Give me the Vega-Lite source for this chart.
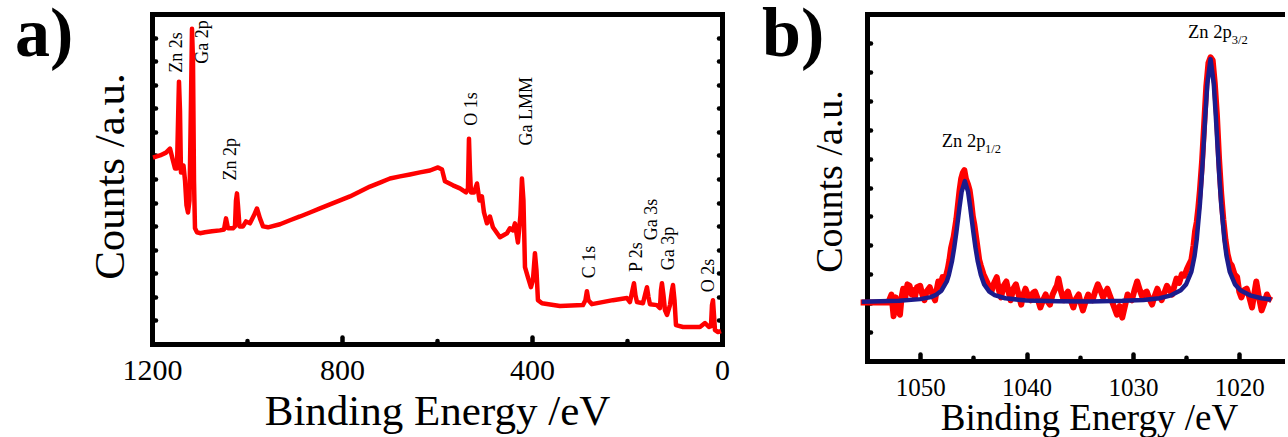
{
  "$schema": "https://vega.github.io/schema/vega-lite/v6.json",
  "background": "white",
  "padding": {"left": 15, "top": 0, "right": 0, "bottom": 0},
  "spacing": 145,
  "bounds": "flush",
  "datasets": {
    "survey": [
      {"e":1197.9,"v":7.91},{"e":1183.2,"v":8.0},{"e":1170.5,"v":8.12},{"e":1162.1,"v":8.29},{"e":1155.8,"v":7.78},{"e":1151.6,"v":7.45},{"e":1147.4,"v":7.45},{"e":1144.2,"v":10.32},{"e":1143.2,"v":11.13},{"e":1141.1,"v":9.9},{"e":1139.0,"v":7.28},{"e":1136.9,"v":7.28},{"e":1133.7,"v":7.57},{"e":1130.5,"v":6.94},{"e":1127.4,"v":5.88},{"e":1124.2,"v":5.58},{"e":1121.1,"v":6.09},{"e":1117.9,"v":10.32},{"e":1115.8,"v":13.37},{"e":1113.7,"v":12.01},{"e":1111.6,"v":6.94},{"e":1109.5,"v":4.91},{"e":1105.3,"v":4.74},{"e":1098.9,"v":4.7},{"e":1088.4,"v":4.74},{"e":1073.7,"v":4.78},{"e":1056.9,"v":4.82},{"e":1048.4,"v":4.86},{"e":1044.2,"v":5.33},{"e":1040.0,"v":4.91},{"e":1029.5,"v":4.91},{"e":1025.3,"v":4.99},{"e":1023.2,"v":6.09},{"e":1021.1,"v":6.39},{"e":1019.0,"v":5.88},{"e":1015.8,"v":4.99},{"e":1008.4,"v":4.99},{"e":1002.1,"v":5.2},{"e":993.7,"v":5.12},{"e":985.3,"v":5.46},{"e":979.0,"v":5.75},{"e":972.7,"v":5.33},{"e":966.3,"v":4.99},{"e":955.8,"v":4.95},{"e":930.5,"v":5.08},{"e":909.5,"v":5.25},{"e":888.4,"v":5.41},{"e":867.4,"v":5.58},{"e":846.3,"v":5.75},{"e":825.3,"v":5.92},{"e":804.2,"v":6.09},{"e":783.2,"v":6.26},{"e":762.1,"v":6.47},{"e":741.1,"v":6.68},{"e":720.0,"v":6.85},{"e":699.0,"v":7.02},{"e":677.9,"v":7.11},{"e":656.9,"v":7.19},{"e":635.8,"v":7.28},{"e":614.8,"v":7.36},{"e":597.9,"v":7.49},{"e":589.5,"v":7.4},{"e":583.2,"v":6.9},{"e":566.4,"v":6.73},{"e":551.7,"v":6.6},{"e":539.0,"v":6.43},{"e":534.8,"v":6.6},{"e":532.7,"v":8.71},{"e":530.6,"v":7.36},{"e":528.5,"v":6.43},{"e":522.2,"v":6.43},{"e":515.8,"v":6.81},{"e":510.6,"v":6.09},{"e":505.4,"v":6.26},{"e":501.1,"v":5.58},{"e":494.8,"v":5.12},{"e":488.5,"v":5.41},{"e":482.2,"v":4.95},{"e":467.5,"v":4.53},{"e":452.7,"v":4.7},{"e":446.4,"v":4.91},{"e":440.1,"v":4.82},{"e":435.9,"v":5.12},{"e":429.6,"v":4.31},{"e":424.3,"v":5.46},{"e":421.2,"v":7.02},{"e":418.0,"v":6.09},{"e":414.8,"v":3.26},{"e":408.5,"v":2.83},{"e":402.2,"v":2.41},{"e":398.0,"v":2.71},{"e":393.8,"v":3.85},{"e":390.6,"v":3.13},{"e":387.5,"v":1.86},{"e":379.0,"v":1.73},{"e":341.2,"v":1.61},{"e":292.8,"v":1.65},{"e":287.5,"v":1.86},{"e":284.4,"v":2.24},{"e":281.2,"v":1.86},{"e":273.8,"v":1.69},{"e":229.6,"v":1.86},{"e":200.1,"v":1.95},{"e":193.8,"v":1.78},{"e":188.5,"v":2.28},{"e":185.3,"v":2.58},{"e":182.2,"v":2.07},{"e":179.0,"v":1.78},{"e":166.4,"v":1.73},{"e":161.1,"v":2.16},{"e":158.0,"v":2.41},{"e":154.8,"v":1.99},{"e":151.7,"v":1.69},{"e":136.9,"v":1.65},{"e":130.6,"v":1.52},{"e":128.5,"v":2.28},{"e":126.4,"v":2.58},{"e":123.2,"v":2.07},{"e":120.1,"v":1.44},{"e":115.8,"v":1.23},{"e":109.5,"v":1.65},{"e":105.3,"v":2.28},{"e":103.2,"v":2.5},{"e":100.0,"v":1.86},{"e":96.9,"v":0.8},{"e":82.1,"v":0.72},{"e":46.4,"v":0.72},{"e":35.8,"v":0.89},{"e":27.5,"v":0.72},{"e":23.2,"v":0.76},{"e":21.1,"v":1.65},{"e":19.0,"v":1.86},{"e":16.9,"v":1.23},{"e":14.8,"v":0.59},{"e":8.5,"v":0.51},{"e":2.1,"v":0.55}
    ],
    "labelsA": [
      {"e":1136.8,"v":11.51,"t":"Zn 2s"},
      {"e":1082.1,"v":11.89,"t":"Ga 2p"},
      {"e":1023.2,"v":6.94,"t":"Zn 2p"},
      {"e":515.9,"v":9.26,"t":"O 1s"},
      {"e":400.1,"v":8.42,"t":"Ga LMM"},
      {"e":267.5,"v":2.79,"t":"C 1s"},
      {"e":168.6,"v":3.05,"t":"P 2s"},
      {"e":137.0,"v":4.4,"t":"Ga 3s"},
      {"e":101.3,"v":3.13,"t":"Ga 3p"},
      {"e":16.4,"v":2.2,"t":"O 2s"}
    ],
    "znRed": [
      {"e":1055.6,"v":2.02},{"e":1053.0,"v":2.02},{"e":1052.7,"v":2.3},{"e":1052.5,"v":1.55},{"e":1052.3,"v":2.2},{"e":1052.1,"v":1.75},{"e":1051.9,"v":1.6},{"e":1051.75,"v":2.2},{"e":1051.6,"v":2.5},{"e":1051.4,"v":2.2},{"e":1051.2,"v":2.65},{"e":1051.0,"v":2.6},{"e":1050.8,"v":2.3},{"e":1050.6,"v":2.45},{"e":1050.5,"v":2.2},{"e":1050.3,"v":2.55},{"e":1050.0,"v":2.6},{"e":1049.8,"v":2.3},{"e":1049.6,"v":2.1},{"e":1049.4,"v":2.4},{"e":1049.1,"v":2.55},{"e":1048.9,"v":2.35},{"e":1048.6,"v":2.1},{"e":1048.45,"v":2.45},{"e":1048.3,"v":2.75},{"e":1048.1,"v":2.6},{"e":1047.9,"v":2.9},{"e":1047.7,"v":2.75},{"e":1047.4,"v":3.2},{"e":1047.25,"v":3.5},{"e":1047.1,"v":3.9},{"e":1046.85,"v":4.3},{"e":1046.6,"v":4.9},{"e":1046.45,"v":5.4},{"e":1046.3,"v":5.9},{"e":1046.15,"v":6.3},{"e":1046.0,"v":6.5},{"e":1045.85,"v":6.6},{"e":1045.7,"v":6.3},{"e":1045.5,"v":6.1},{"e":1045.35,"v":5.9},{"e":1045.2,"v":5.5},{"e":1045.05,"v":5.0},{"e":1044.9,"v":4.7},{"e":1044.75,"v":4.3},{"e":1044.6,"v":3.9},{"e":1044.45,"v":3.5},{"e":1044.3,"v":3.3},{"e":1044.05,"v":3.0},{"e":1043.8,"v":2.8},{"e":1043.55,"v":2.6},{"e":1043.3,"v":2.4},{"e":1043.05,"v":2.7},{"e":1042.8,"v":2.9},{"e":1042.6,"v":2.45},{"e":1042.4,"v":2.2},{"e":1042.15,"v":2.6},{"e":1041.9,"v":2.75},{"e":1041.7,"v":2.4},{"e":1041.5,"v":2.1},{"e":1041.25,"v":2.5},{"e":1041.0,"v":2.65},{"e":1040.75,"v":2.3},{"e":1040.5,"v":1.95},{"e":1040.3,"v":2.3},{"e":1040.1,"v":2.5},{"e":1039.85,"v":2.25},{"e":1039.6,"v":2.1},{"e":1039.4,"v":2.35},{"e":1039.2,"v":2.4},{"e":1038.95,"v":2.15},{"e":1038.7,"v":1.85},{"e":1038.45,"v":2.1},{"e":1038.2,"v":2.3},{"e":1038.0,"v":2.05},{"e":1037.8,"v":1.95},{"e":1037.55,"v":2.3},{"e":1037.3,"v":2.5},{"e":1037.15,"v":2.6},{"e":1037.0,"v":2.85},{"e":1036.75,"v":2.4},{"e":1036.5,"v":2.1},{"e":1036.3,"v":2.3},{"e":1036.1,"v":2.4},{"e":1035.85,"v":2.1},{"e":1035.6,"v":1.85},{"e":1035.35,"v":2.15},{"e":1035.1,"v":2.3},{"e":1034.9,"v":2.0},{"e":1034.7,"v":1.75},{"e":1034.45,"v":2.05},{"e":1034.2,"v":2.3},{"e":1034.0,"v":2.15},{"e":1033.8,"v":2.1},{"e":1033.55,"v":2.4},{"e":1033.3,"v":2.65},{"e":1033.05,"v":2.45},{"e":1032.8,"v":2.2},{"e":1032.6,"v":2.35},{"e":1032.4,"v":2.5},{"e":1032.15,"v":2.25},{"e":1031.9,"v":2.0},{"e":1031.7,"v":1.8},{"e":1031.5,"v":1.6},{"e":1031.25,"v":1.9},{"e":1031.0,"v":1.5},{"e":1030.75,"v":1.9},{"e":1030.5,"v":2.3},{"e":1030.3,"v":2.15},{"e":1030.1,"v":2.1},{"e":1029.85,"v":2.45},{"e":1029.6,"v":2.75},{"e":1029.35,"v":2.45},{"e":1029.1,"v":2.2},{"e":1028.9,"v":2.35},{"e":1028.7,"v":2.4},{"e":1028.45,"v":2.15},{"e":1028.2,"v":1.95},{"e":1027.95,"v":2.25},{"e":1027.7,"v":2.5},{"e":1027.5,"v":2.3},{"e":1027.3,"v":2.1},{"e":1027.05,"v":2.35},{"e":1026.8,"v":2.6},{"e":1026.55,"v":2.45},{"e":1026.3,"v":2.3},{"e":1026.1,"v":2.6},{"e":1025.9,"v":2.85},{"e":1025.65,"v":2.7},{"e":1025.4,"v":3.0},{"e":1025.15,"v":2.95},{"e":1024.9,"v":3.2},{"e":1024.7,"v":3.35},{"e":1024.5,"v":3.5},{"e":1024.3,"v":4.0},{"e":1024.15,"v":4.5},{"e":1024.0,"v":4.8},{"e":1023.85,"v":5.3},{"e":1023.7,"v":5.9},{"e":1023.5,"v":6.9},{"e":1023.3,"v":8.2},{"e":1023.1,"v":9.5},{"e":1022.9,"v":10.3},{"e":1022.7,"v":10.5},{"e":1022.5,"v":10.4},{"e":1022.3,"v":9.6},{"e":1022.1,"v":8.5},{"e":1021.9,"v":7.0},{"e":1021.7,"v":5.8},{"e":1021.5,"v":4.9},{"e":1021.3,"v":4.2},{"e":1021.1,"v":3.7},{"e":1020.9,"v":3.4},{"e":1020.7,"v":3.3},{"e":1020.45,"v":3.0},{"e":1020.2,"v":2.9},{"e":1020.0,"v":2.4},{"e":1019.8,"v":2.2},{"e":1019.55,"v":2.45},{"e":1019.3,"v":2.5},{"e":1019.05,"v":2.2},{"e":1018.8,"v":1.85},{"e":1018.6,"v":2.3},{"e":1018.4,"v":2.75},{"e":1018.15,"v":2.2},{"e":1017.9,"v":1.75},{"e":1017.65,"v":2.0},{"e":1017.4,"v":2.3},{"e":1017.2,"v":2.15},{"e":1016.95,"v":2.1}
    ],
    "znFit": [
      {"e":1055.5,"v":2.05},{"e":1052.0,"v":2.08},{"e":1050.0,"v":2.14},{"e":1049.0,"v":2.21},{"e":1048.5,"v":2.29},{"e":1048.0,"v":2.43},{"e":1047.5,"v":2.75},{"e":1047.3,"v":2.98},{"e":1047.0,"v":3.47},{"e":1046.8,"v":3.92},{"e":1046.6,"v":4.45},{"e":1046.3,"v":5.33},{"e":1046.1,"v":5.86},{"e":1045.8,"v":6.22},{"e":1045.5,"v":5.86},{"e":1045.3,"v":5.33},{"e":1045.0,"v":4.45},{"e":1044.8,"v":3.92},{"e":1044.6,"v":3.47},{"e":1044.3,"v":2.98},{"e":1044.0,"v":2.66},{"e":1043.5,"v":2.4},{"e":1043.0,"v":2.28},{"e":1042.0,"v":2.17},{"e":1040.0,"v":2.09},{"e":1037.0,"v":2.07},{"e":1034.0,"v":2.06},{"e":1031.0,"v":2.08},{"e":1029.0,"v":2.11},{"e":1027.5,"v":2.17},{"e":1026.5,"v":2.26},{"e":1025.5,"v":2.45},{"e":1025.0,"v":2.65},{"e":1024.5,"v":3.09},{"e":1024.2,"v":3.64},{"e":1024.0,"v":4.2},{"e":1023.7,"v":5.43},{"e":1023.5,"v":6.52},{"e":1023.2,"v":8.43},{"e":1023.0,"v":9.6},{"e":1022.7,"v":10.44},{"e":1022.4,"v":9.6},{"e":1022.2,"v":8.43},{"e":1021.9,"v":6.52},{"e":1021.7,"v":5.43},{"e":1021.4,"v":4.2},{"e":1021.2,"v":3.64},{"e":1020.9,"v":3.09},{"e":1020.4,"v":2.65},{"e":1019.9,"v":2.45},{"e":1018.9,"v":2.26},{"e":1017.9,"v":2.17},{"e":1017.0,"v":2.13}
    ],
    "labelsB": [
      {"e":1047.97,"v":7.4,"t":"Zn 2p"},
      {"e":1024.82,"v":11.17,"t":"Zn 2p"}
    ],
    "subsB": [
      {"e":1043.9,"v":7.19,"t":"1/2"},
      {"e":1020.7,"v":10.96,"t":"3/2"}
    ]
  },
  "hconcat": [
    {
      "width": 570,
      "height": 330,
      "title": {"text": "a)", "anchor": "start", "frame": "group", "font": "Liberation Serif", "fontSize": 70, "fontWeight": "bold", "color": "black", "baseline": "alphabetic", "offset": 0, "dx": -137, "dy": 112},
      "layer": [
        {
          "data": {"name": "survey"},
          "mark": {"type": "line", "color": "#ff0000", "strokeWidth": 4.5, "strokeJoin": "round"},
          "encoding": {
            "x": {"field": "e", "type": "quantitative",
              "scale": {"domain": [0, 1200], "reverse": true, "nice": false, "zero": false},
              "axis": {"orient": "bottom", "values": [1200, 1000, 800, 600, 400, 200, 0], "format": "d",
                "tickSize": {"condition": {"test": "datum.value % 400 === 0", "value": -7}, "value": -3.5},
                "labelExpr": "datum.value % 400 === 0 ? datum.label : ''",
                "labelFontSize": 30, "labelPadding": 18, "labelFlush": false, "labelOverlap": false,
                "title": "Binding Energy /eV", "titleFontSize": 43, "titlePadding": 2}},
            "y": {"field": "v", "type": "quantitative",
              "scale": {"domain": [0, 14], "nice": false, "zero": false},
              "axis": {"orient": "left", "values": [1,2,3,4,5,6,7,8,9,10,11,12,13], "tickSize": -3.5, "labels": false,
                "title": "Counts /a.u.", "titleFontSize": 43, "titlePadding": 17, "titleY": 162}}
          }
        },
        {
          "data": {"name": "labelsA"},
          "mark": {"type": "text", "angle": 270, "align": "left", "baseline": "alphabetic", "font": "Liberation Serif", "fontSize": 18, "color": "black"},
          "encoding": {
            "x": {"field": "e", "type": "quantitative",
              "scale": {"domain": [0, 1200], "reverse": true, "nice": false, "zero": false},
              "axis": {"orient": "top", "ticks": false, "labels": false, "title": null, "domain": true}},
            "y": {"field": "v", "type": "quantitative",
              "scale": {"domain": [0, 14], "nice": false, "zero": false},
              "axis": {"orient": "right", "values": [1,2,3,4,5,6,7,8,9,10,11,12,13], "tickSize": -3.5, "labels": false, "title": null}},
            "text": {"field": "t"}
          }
        }
      ],
      "resolve": {"axis": {"x": "independent", "y": "independent"}}
    },
    {
      "width": 418,
      "height": 347,
      "title": {"text": "b)", "anchor": "start", "frame": "group", "font": "Liberation Serif", "fontSize": 70, "fontWeight": "bold", "color": "black", "baseline": "alphabetic", "offset": 0, "dx": -105, "dy": 112},
      "layer": [
        {
          "data": {"name": "znRed"},
          "mark": {"type": "line", "color": "#ff0000", "strokeWidth": 6, "strokeJoin": "round"},
          "encoding": {
            "x": {"field": "e", "type": "quantitative",
              "scale": {"domain": [1015.7, 1055], "reverse": true, "nice": false, "zero": false},
              "axis": {"orient": "bottom", "values": [1050, 1045, 1040, 1035, 1030, 1025, 1020], "format": "d",
                "tickSize": {"condition": {"test": "datum.value % 10 === 0", "value": -7}, "value": -3.8},
                "labelExpr": "datum.value % 10 === 0 ? datum.label : ''",
                "labelFontSize": 25, "labelPadding": 21, "labelFlush": false, "labelOverlap": false,
                "title": "Binding Energy /eV", "titleFontSize": 37, "titlePadding": -3, "titleX": 222}},
            "y": {"field": "v", "type": "quantitative",
              "scale": {"domain": [0, 12], "nice": false, "zero": false},
              "axis": {"orient": "left", "values": [1,2,3,4,5,6,7,8,9,10,11], "tickSize": -3.5, "labels": false,
                "title": "Counts /a.u.", "titleFontSize": 38, "titlePadding": 15, "titleY": 167}}
          }
        },
        {
          "data": {"name": "znFit"},
          "mark": {"type": "line", "color": "#1c1c8c", "strokeWidth": 4.5, "strokeJoin": "round"},
          "encoding": {
            "x": {"field": "e", "type": "quantitative",
              "scale": {"domain": [1015.7, 1055], "reverse": true, "nice": false, "zero": false},
              "axis": {"orient": "top", "ticks": false, "labels": false, "title": null, "domain": true}},
            "y": {"field": "v", "type": "quantitative",
              "scale": {"domain": [0, 12], "nice": false, "zero": false}, "axis": null}
          }
        },
        {
          "data": {"name": "labelsB"},
          "mark": {"type": "text", "align": "left", "baseline": "alphabetic", "font": "Liberation Serif", "fontSize": 18.5, "color": "black"},
          "encoding": {
            "x": {"field": "e", "type": "quantitative",
              "scale": {"domain": [1015.7, 1055], "reverse": true, "nice": false, "zero": false}, "axis": null},
            "y": {"field": "v", "type": "quantitative",
              "scale": {"domain": [0, 12], "nice": false, "zero": false}, "axis": null},
            "text": {"field": "t"}
          }
        },
        {
          "data": {"name": "subsB"},
          "mark": {"type": "text", "align": "left", "baseline": "alphabetic", "font": "Liberation Serif", "fontSize": 12.5, "color": "black"},
          "encoding": {
            "x": {"field": "e", "type": "quantitative",
              "scale": {"domain": [1015.7, 1055], "reverse": true, "nice": false, "zero": false}, "axis": null},
            "y": {"field": "v", "type": "quantitative",
              "scale": {"domain": [0, 12], "nice": false, "zero": false}, "axis": null},
            "text": {"field": "t"}
          }
        }
      ],
      "resolve": {"axis": {"x": "independent", "y": "independent"}}
    }
  ],
  "config": {
    "font": "Liberation Serif",
    "view": {"stroke": null},
    "axis": {
      "domainColor": "black", "domainWidth": 5, "domainCap": "square",
      "tickColor": "black", "tickWidth": 4.5, "tickCap": "round",
      "grid": false,
      "labelColor": "black", "labelFont": "Liberation Serif",
      "titleColor": "black", "titleFont": "Liberation Serif", "titleFontWeight": "normal"
    }
  }
}
